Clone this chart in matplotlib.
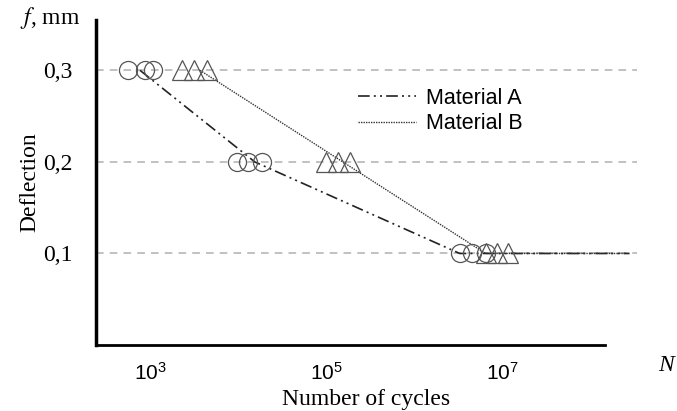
import numpy as np
import matplotlib
matplotlib.use("Agg")
import matplotlib.pyplot as plt
from matplotlib.ticker import FixedLocator, NullLocator

plt.rcParams['mathtext.default'] = 'regular'

# marker groups (cycles, deflection mm)
a_pts_n = [560, 880, 1070, 9800, 13000, 18700, 3.3e6, 4.6e6, 6.5e6]
a_pts_f = [0.3, 0.3, 0.3, 0.2, 0.2, 0.2, 0.1, 0.1, 0.1]
b_pts_n = [2300, 3200, 4450, 1.0e5, 1.37e5, 1.87e5, 6.5e6, 8.7e6, 1.17e7]
b_pts_f = [0.3, 0.3, 0.3, 0.2, 0.2, 0.2, 0.1, 0.1, 0.1]

# fitted curves
a_line_n = [770, 15500, 3.3e6, 2.8e8]
a_line_f = [0.3, 0.2, 0.1, 0.1]
b_line_n = [3700, 6.5e6, 2.8e8]
b_line_f = [0.3, 0.1, 0.1]

x_ticks = [1e3, 1e5, 1e7]
x_ticklabels = ['$10^{3}$', '$10^{5}$', '$10^{7}$']
y_ticks = [0.1, 0.2, 0.3]
y_ticklabels = ['0,1', '0,2', '0,3']

serif = 'Liberation Serif'
sans = 'Liberation Sans'

fig = plt.figure(figsize=(6.77, 4.11), dpi=100)
ax = fig.add_axes([96 / 677, 1 - 345 / 411, (637 - 96) / 677, (345 - 20) / 411])

ax.set_xscale('log')
ax.set_xlim(10 ** 2.386, 10 ** 8.534)
ax.set_ylim(0, 0.355)

for y in y_ticks:
    ax.axhline(y, color='#b0b0b0', lw=1.1, ls=(0, (5, 4)), zorder=0)

ax.plot(a_line_n, a_line_f, color='#222222', lw=1.2, ls=(0, (7, 2.5, 1.2, 2.5, 1.2, 2.5)),
        label='Material A', zorder=2)
ax.plot(b_line_n, b_line_f, color='#333333', lw=1.0, ls=(0, (1, 0.8)),
        label='Material B', zorder=2)

ax.plot(a_pts_n, a_pts_f, ls='none', marker='o', ms=13, mfc='none', mec='#555555', mew=0.9, zorder=3)
ax.plot(b_pts_n, b_pts_f, ls='none', marker='^', ms=14.5, mfc='none', mec='#555555', mew=0.9, zorder=3)

# axes frame
for s in ['top', 'right']:
    ax.spines[s].set_visible(False)
ax.spines['left'].set_linewidth(2.5)
ax.spines['bottom'].set_linewidth(2.0)
ax.spines['bottom'].set_bounds(10 ** 2.386, 10 ** 8.17)

ax.xaxis.set_major_locator(FixedLocator(x_ticks))
ax.xaxis.set_minor_locator(NullLocator())
ax.set_xticklabels(x_ticklabels, fontsize=15, fontfamily=sans)
ax.set_yticks(y_ticks)
ax.set_yticklabels(y_ticklabels, fontsize=17, fontfamily=serif)
ax.tick_params(axis='both', length=0)
ax.tick_params(axis='x', pad=12)
ax.tick_params(axis='y', pad=17)

ax.set_xlabel('Number of cycles', fontsize=17, fontfamily=serif, labelpad=4)
ax.set_ylabel('Deflection', fontsize=17, fontfamily=serif, labelpad=2)

fig.text(20 / 677, 1 - 18 / 411, r'$\mathit{f}$, mm', fontsize=17, fontfamily=serif,
         va='center', ha='left', math_fontfamily='stix')
fig.text(658 / 677, 1 - 365 / 411, 'N', fontsize=17, fontfamily=serif, style='italic',
         va='center', ha='left')

ax.legend(loc='upper left', bbox_to_anchor=(358 / 677, 1 - 88 / 411),
          bbox_transform=fig.transFigure, frameon=False, borderpad=0, borderaxespad=0,
          handlelength=2.7, handletextpad=0.45, labelspacing=0.2,
          prop={'family': sans, 'size': 15.5})

fig.savefig('out.png', dpi=100)
